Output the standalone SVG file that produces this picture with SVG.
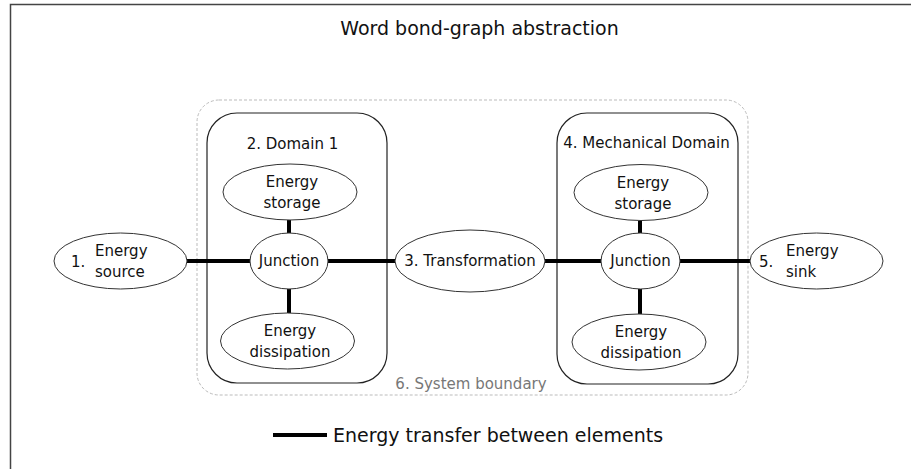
<svg xmlns="http://www.w3.org/2000/svg" width="911" height="469" viewBox="0 0 911 469">
<style>
text{font-family:"DejaVu Sans","Verdana",sans-serif;fill:#111;}
.n{font-size:15px;}
.c{text-anchor:middle;}
.el{fill:#fff;stroke:#333;stroke-width:1;}
.dom{fill:none;stroke:#222;stroke-width:1.2;}
.bond{stroke:#000;stroke-width:4;fill:none;}
</style>
<rect x="0" y="0" width="911" height="469" fill="#fff"/>
<path d="M10.5 469 V4.5 H911" fill="none" stroke="#444" stroke-width="1.5"/>
<text class="c" x="479.5" y="35" font-size="19">Word bond-graph abstraction</text>

<g id="system-boundary">
<rect x="197" y="100" width="551" height="295" rx="22" fill="none" stroke="#bbb" stroke-width="1" stroke-dasharray="3,2"/>
<text class="n c" x="471" y="389" fill="#777" style="fill:#777">6. System boundary</text>
</g>
<g id="domain1">
<rect class="dom" x="207" y="113" width="180" height="270" rx="30"/>
<text class="n c" x="292.5" y="149">2. Domain 1</text>
</g>
<g id="domain2">
<rect class="dom" x="557" y="113" width="181" height="271" rx="30"/>
<text class="n c" x="646.5" y="148">4. Mechanical Domain</text>
</g>

<g id="connectors">
<line class="bond" x1="187" y1="261" x2="250" y2="261"/>
<line class="bond" x1="328" y1="261" x2="395" y2="261"/>
<line class="bond" x1="545" y1="261" x2="601" y2="261"/>
<line class="bond" x1="680" y1="261" x2="750" y2="261"/>
<line class="bond" x1="289" y1="220" x2="289" y2="233"/>
<line class="bond" x1="289" y1="289" x2="289" y2="313"/>
<line class="bond" x1="640" y1="221" x2="640" y2="233"/>
<line class="bond" x1="640" y1="289" x2="640" y2="314"/>
</g>

<g id="energy-source">
<ellipse class="el" cx="120.5" cy="261" rx="66.5" ry="28"/>
<text class="n" x="71" y="266.5">1.</text>
<text class="n" x="95" y="255.5">Energy</text>
<text class="n" x="95" y="276.5">source</text>
</g>
<g id="storage1">
<ellipse class="el" cx="290" cy="192" rx="67" ry="28"/>
<text class="n c" x="292" y="187">Energy</text>
<text class="n c" x="292" y="208">storage</text>
</g>
<g id="junction1">
<ellipse class="el" cx="289" cy="261" rx="39" ry="28"/>
<text class="n c" x="289" y="266">Junction</text>
</g>
<g id="dissipation1">
<ellipse class="el" cx="287.5" cy="341" rx="67" ry="28"/>
<text class="n c" x="290" y="336">Energy</text>
<text class="n c" x="290" y="357">dissipation</text>
</g>
<g id="transformation">
<ellipse class="el" cx="470" cy="261" rx="75" ry="31"/>
<text class="n c" x="470" y="266">3. Transformation</text>
</g>
<g id="storage2">
<ellipse class="el" cx="641" cy="192.5" rx="67" ry="28"/>
<text class="n c" x="643" y="187.5">Energy</text>
<text class="n c" x="643" y="208.5">storage</text>
</g>
<g id="junction2">
<ellipse class="el" cx="640.5" cy="261" rx="39.5" ry="28"/>
<text class="n c" x="640.5" y="266">Junction</text>
</g>
<g id="dissipation2">
<ellipse class="el" cx="639" cy="342" rx="67" ry="28"/>
<text class="n c" x="641" y="337">Energy</text>
<text class="n c" x="641" y="358">dissipation</text>
</g>
<g id="energy-sink">
<ellipse class="el" cx="816.5" cy="261" rx="66.5" ry="28"/>
<text class="n" x="759" y="266.5">5.</text>
<text class="n" x="786" y="255.5">Energy</text>
<text class="n" x="786" y="276.5">sink</text>
</g>

<g id="legend">
<line class="bond" x1="273" y1="435" x2="327" y2="435"/>
<text x="333" y="442" font-size="19">Energy transfer between elements</text>
</g>
</svg>
